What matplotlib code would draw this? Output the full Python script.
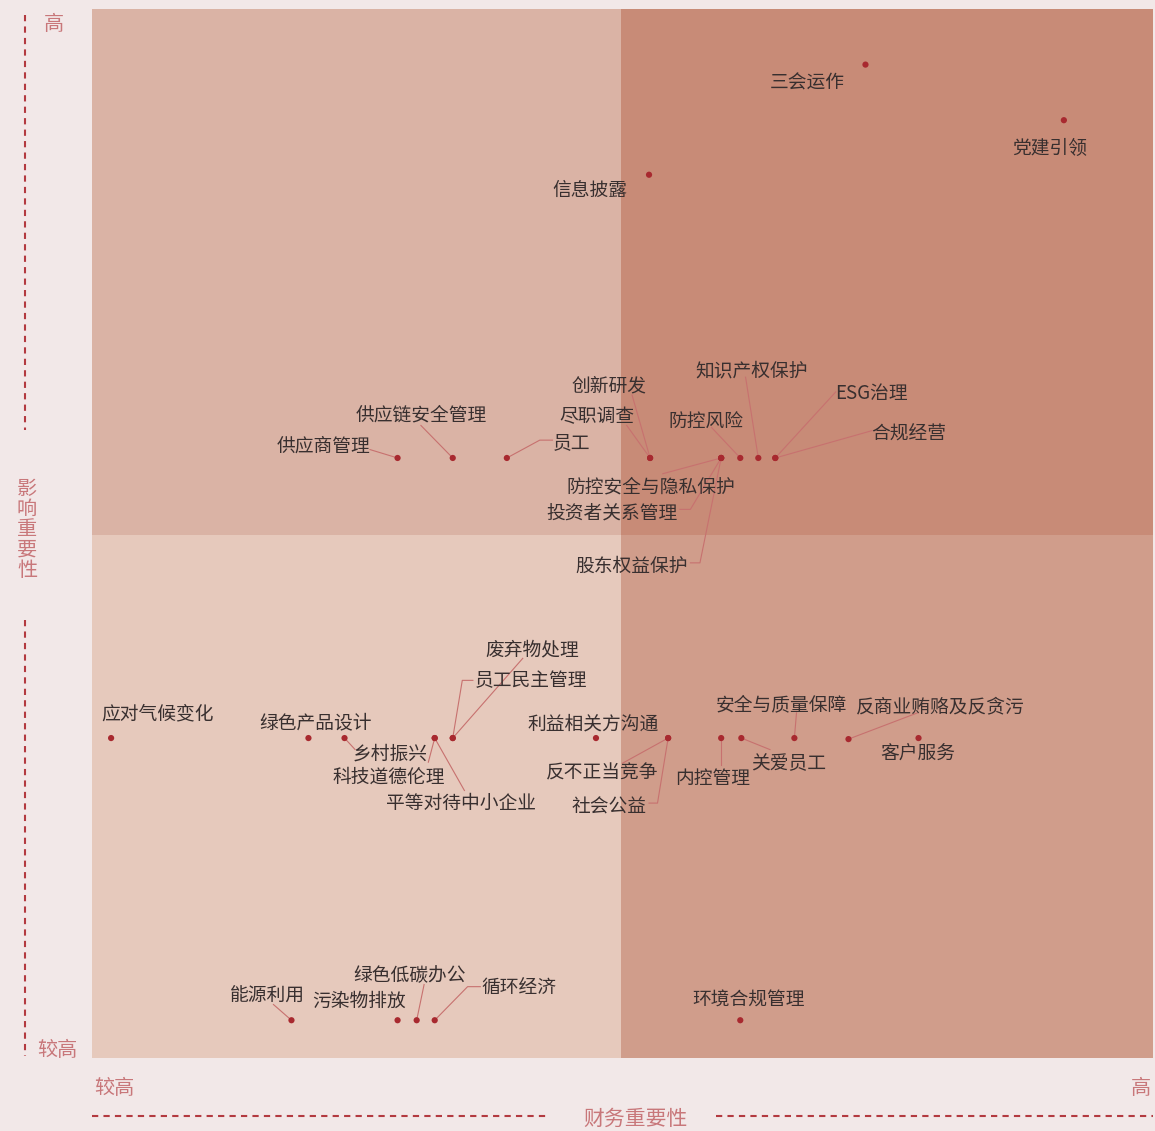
import matplotlib
matplotlib.use("Agg")
import matplotlib.pyplot as plt
from matplotlib.patches import Rectangle
from matplotlib.transforms import offset_copy

plt.rcParams["font.family"] = ["Noto Sans CJK SC", "DejaVu Sans"]

# ---- data: financial importance (x, 0-100) vs impact importance (y, 0-100) ----
names = ["三会运作", "党建引领", "信息披露",
         "供应商管理", "供应链安全管理", "员工", "创新研发", "尽职调查",
         "防控风险", "知识产权保护", "ESG治理", "合规经营",
         "防控安全与隐私保护", "投资者关系管理", "股东权益保护",
         "应对气候变化", "绿色产品设计", "乡村振兴", "科技道德伦理", "平等对待中小企业",
         "废弃物处理", "员工民主管理", "利益相关方沟通", "反不正当竞争", "社会公益",
         "内控管理", "关爱员工", "安全与质量保障", "反商业贿赂及反贪污", "客户服务",
         "能源利用", "污染物排放", "绿色低碳办公", "循环经济", "环境合规管理"]
fin = [72.9, 91.6, 52.5,
       28.8, 34.0, 39.1, 52.6, 52.6,
       61.1, 62.8, 64.4, 64.4,
       59.3, 59.3, 59.3,
       1.8, 20.4, 23.8, 32.3, 32.3,
       34.0, 34.0, 47.5, 54.3, 54.3,
       59.3, 61.2, 66.2, 71.3, 77.9,
       18.8, 28.8, 30.6, 32.3, 61.1]
imp = [94.7, 89.4, 84.2,
       57.2, 57.2, 57.2, 57.2, 57.2,
       57.2, 57.2, 57.2, 57.2,
       57.2, 57.2, 57.2,
       30.5, 30.5, 30.5, 30.5, 30.5,
       30.5, 30.5, 30.5, 30.5, 30.5,
       30.5, 30.5, 30.5, 30.4, 30.5,
       3.6, 3.6, 3.6, 3.6, 3.6]

# ---- label layout: text centre, optional leader start and elbow ----
label_pos = {
    "三会运作": (67.4, 93.1, None, None),
    "党建引领": (90.3, 86.9, None, None),
    "信息披露": (46.9, 82.9, None, None),
    "供应商管理": (21.8, 58.5, (26.2, 58.0), None),
    "供应链安全管理": (31.0, 61.5, (31.0, 60.3), None),
    "员工": (45.2, 58.9, (43.4, 58.9), (42.2, 58.9)),
    "创新研发": (48.7, 64.3, (50.9, 63.2), None),
    "尽职调查": (47.6, 61.3, (50.4, 60.3), None),
    "防控风险": (57.9, 60.8, (58.4, 60.1), None),
    "知识产权保护": (62.2, 65.7, (61.6, 64.9), None),
    "ESG治理": (73.5, 63.5, (70.1, 63.5), None),
    "合规经营": (77.0, 59.8, (73.5, 59.8), None),
    "防控安全与隐私保护": (52.7, 54.6, (53.8, 55.7), None),
    "投资者关系管理": (49.0, 52.1, (55.4, 52.3), (56.4, 52.3)),
    "股东权益保护": (50.9, 47.1, (56.4, 47.2), (57.3, 47.2)),
    "应对气候变化": (6.2, 33.0, None, None),
    "绿色产品设计": (21.1, 32.1, None, None),
    "乡村振兴": (28.1, 29.2, (24.8, 29.4), None),
    "科技道德伦理": (28.0, 27.0, (31.7, 28.2), None),
    "平等对待中小企业": (34.8, 24.5, (35.1, 25.5), None),
    "废弃物处理": (41.5, 39.1, (40.6, 38.1), None),
    "员工民主管理": (41.4, 36.2, (35.9, 36.0), (34.9, 36.0)),
    "利益相关方沟通": (47.2, 32.0, None, None),
    "反不正当竞争": (48.1, 27.4, (50.0, 28.1), None),
    "社会公益": (48.7, 24.1, (52.5, 24.3), (53.3, 24.3)),
    "内控管理": (58.5, 26.8, (59.3, 27.9), None),
    "关爱员工": (65.7, 28.3, (63.9, 29.4), None),
    "安全与质量保障": (65.0, 33.9, (66.4, 32.9), None),
    "反商业贿赂及反贪污": (80.0, 33.7, (77.8, 32.9), None),
    "客户服务": (77.8, 29.2, None, None),
    "能源利用": (16.5, 6.1, (17.1, 5.1), None),
    "污染物排放": (25.2, 5.6, None, None),
    "绿色低碳办公": (29.9, 8.0, (31.3, 7.0), None),
    "循环经济": (40.2, 6.9, (36.6, 6.8), (35.4, 6.8)),
    "环境合规管理": (61.9, 5.7, None, None),
}

W, H = 1155, 1131
fig = plt.figure(figsize=(W / 100, H / 100), dpi=100)
fig.patch.set_facecolor("#f2e8e8")

# background axes in pixel units for the axis decorations
bg = fig.add_axes([0, 0, 1, 1])
bg.set_xlim(0, W)
bg.set_ylim(H, 0)
bg.axis("off")
axis_col = "#c8777a"
dash_col = "#b33a40"
dash = (0, (3, 2.5))
bg.plot([25, 25], [15, 430], ls=dash, color=dash_col, lw=1.5)
bg.plot([25, 25], [620, 1056], ls=dash, color=dash_col, lw=1.5)
bg.plot([92, 548], [1116, 1116], ls=dash, color=dash_col, lw=1.5)
bg.plot([716, 1153], [1116, 1116], ls=dash, color=dash_col, lw=1.5)
bg.text(54, 24, "高", color=axis_col, fontsize=14.5, ha="center", va="center")
bg.text(57, 1050, "较高", color=axis_col, fontsize=14.5, ha="center", va="center")
bg.text(114, 1089, "较高", color=axis_col, fontsize=14.5, ha="center", va="center")
bg.text(1141, 1089, "高", color=axis_col, fontsize=14.5, ha="center", va="center")
bg.text(636, 1119, "财务重要性", color=axis_col, fontsize=15, ha="center", va="center")
bg.text(27, 530, "\n".join("影响重要性"), color=axis_col, fontsize=14.5,
        ha="center", va="center", linespacing=0.95)

# main plot
ax = fig.add_axes([92 / W, (H - 1058) / H, 1061 / W, 1049 / H])
ax.set_xlim(0, 100)
ax.set_ylim(0, 100)
ax.axis("off")
split = 49.85
quads = [((0, split), split, 100 - split, "#dab3a5"),
         ((split, split), 100 - split, 100 - split, "#c88b77"),
         ((0, 0), split, split, "#e6c9bc"),
         ((split, 0), 100 - split, split, "#d09d8b")]
for xy, w, h, c in quads:
    ax.add_patch(Rectangle(xy, w, h, facecolor=c, edgecolor="none", zorder=0))

line_col = "#c7716f"
text_tr = offset_copy(ax.transData, fig=fig, x=0, y=-2, units="dots")
for n, x, y in zip(names, fin, imp):
    tx, ty, start, elbow = label_pos[n]
    if start is not None:
        pts = [start] + ([elbow] if elbow else []) + [(x, y)]
        ax.plot([p[0] for p in pts], [p[1] for p in pts], color=line_col, lw=0.8, zorder=1)
    ax.text(tx, ty, n, fontsize=13.5, color="#382f2f", ha="center", va="center",
            transform=text_tr, zorder=3)

ax.scatter(fin, imp, s=20, color="#a8292f", edgecolors="none", zorder=2)

fig.savefig("out.png", dpi=100, facecolor=fig.get_facecolor())
